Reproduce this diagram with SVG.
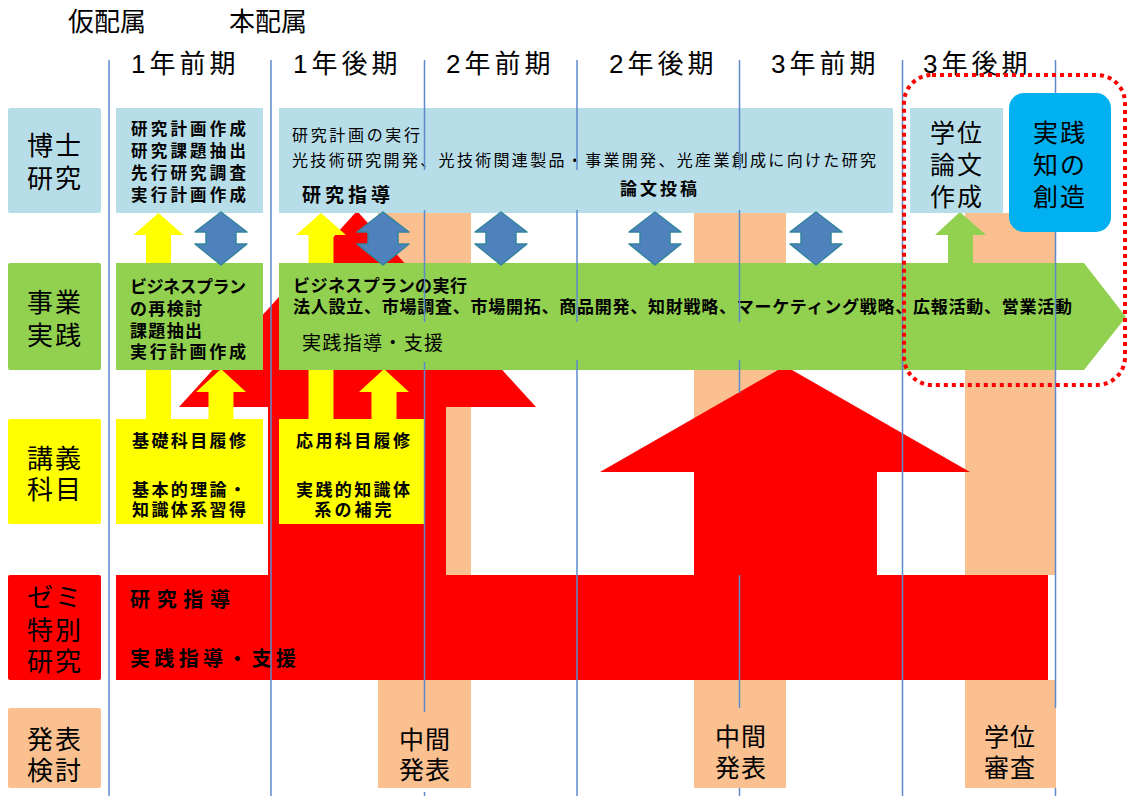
<svg xmlns="http://www.w3.org/2000/svg" width="1127" height="796" viewBox="0 0 1127 796">
<style>
text{font-family:"Liberation Sans","Noto Sans CJK JP","Noto Sans CJK SC",sans-serif;fill:#000}
.hd{font-size:26px}
.per{font-size:26px;letter-spacing:4px}
.lab{font-size:26px;letter-spacing:2px;text-anchor:middle}
.big{font-size:25px;letter-spacing:2px;text-anchor:middle}
.b16{font-size:16.5px;font-weight:bold}
.b17{font-size:17px;font-weight:bold}
.y17{font-size:17px;font-weight:bold;text-anchor:middle}
.r16{font-size:16px}
.b20{font-size:20px;font-weight:bold}
.r19{font-size:19px}
.blue{fill:#B7DEE8}
.green{fill:#92D050}
.yellow{fill:#FFFF00}
.red{fill:#FF0000}
.salmon{fill:#FAC090}
.grid{stroke:#5E8ACB;stroke-width:1.5;fill:none}
</style>
<defs>
<path id="dbl" d="M0 0L26 20L15 20L15 32L26 32L0 53L-26 32L-15 32L-15 20L-26 20Z" fill="#4F81BD" stroke="#31859C" stroke-width="1.5" stroke-linejoin="round"/>
</defs>
<rect width="1127" height="796" fill="#fff"/>

<g id="presentation-columns">
<rect class="salmon" x="378" y="213" width="93" height="362"/>
<rect class="salmon" x="694" y="213" width="92" height="362"/>
<rect class="salmon" x="965" y="213" width="90" height="362"/>
</g>

<g id="connectors">
<path class="red" d="M357 211L536 407L446 407L446 576L268 576L268 407L179 407Z"/>
<path class="red" d="M785 366L970 472L877 472L877 576L694 576L694 472L600 472Z"/>
<path class="yellow" d="M158.5 213L183.5 235L171 235L171 420L146 420L146 235L133.5 235Z"/>
<path class="yellow" d="M221 369L246 392L233.5 392L233.5 420L208.5 420L208.5 392L196 392Z"/>
<path class="yellow" d="M321 213L346 235L333.5 235L333.5 420L308.5 420L308.5 235L296 235Z"/>
<path class="yellow" d="M384 369L409 392L396.5 392L396.5 420L371.5 420L371.5 392L359 392Z"/>
<path class="green" d="M960 212L986 235L973 235L973 264L948 264L948 235L935 235Z"/>
</g>

<g id="label-hakushi"><rect class="blue" x="8" y="108" width="93" height="105" rx="2"/>
<text class="lab" x="55" y="155">博士</text><text class="lab" x="55" y="188">研究</text></g>
<g id="label-jigyo"><rect class="green" x="8" y="263" width="93" height="107" rx="2"/>
<text class="lab" x="55" y="312">事業</text><text class="lab" x="55" y="345">実践</text></g>
<g id="label-kogi"><rect class="yellow" x="8" y="419" width="93" height="105" rx="2"/>
<text class="lab" x="55" y="468">講義</text><text class="lab" x="55" y="499">科目</text></g>
<g id="label-zemi"><rect class="red" x="8" y="575" width="93" height="105" rx="2"/>
<text class="lab" x="55" y="607">ゼミ</text><text class="lab" x="55" y="640">特別</text><text class="lab" x="55" y="671">研究</text></g>
<g id="label-happyo"><rect class="salmon" x="8" y="708" width="93" height="80" rx="2"/>
<text class="lab" x="55" y="749">発表</text><text class="lab" x="55" y="780">検討</text></g>

<g id="research-plan">
<rect class="blue" x="116" y="108" width="147" height="105"/>
<text class="b16" x="131" y="135" textLength="115" lengthAdjust="spacing">研究計画作成</text>
<text class="b16" x="131" y="157" textLength="115" lengthAdjust="spacing">研究課題抽出</text>
<text class="b16" x="131" y="179" textLength="115" lengthAdjust="spacing">先行研究調査</text>
<text class="b16" x="131" y="201" textLength="115" lengthAdjust="spacing">実行計画作成</text>
</g>
<g id="research-exec">
<rect class="blue" x="279" y="108" width="614" height="105"/>
<text class="r16" x="292" y="141" textLength="128" lengthAdjust="spacing">研究計画の実行</text>
<text class="r16" x="292" y="166" textLength="584" lengthAdjust="spacing">光技術研究開発、光技術関連製品・事業開発、光産業創成に向けた研究</text>
<text class="b20" x="302" y="202" textLength="88" lengthAdjust="spacing" style="font-size:19px">研究指導</text>
<text class="b17" x="620" y="195" textLength="77" lengthAdjust="spacing">論文投稿</text>
</g>
<g id="thesis">
<rect class="blue" x="910" y="108" width="93" height="105"/>
<text class="big" x="957" y="142">学位</text><text class="big" x="957" y="174">論文</text><text class="big" x="957" y="206">作成</text>
</g>

<g id="business-plan">
<rect class="green" x="116" y="263" width="147" height="107"/>
<text class="b17" x="130" y="293" textLength="116" lengthAdjust="spacing">ビジネスプラン</text>
<text class="b17" x="130" y="315" textLength="72" lengthAdjust="spacing">の再検討</text>
<text class="b17" x="130" y="337" textLength="72" lengthAdjust="spacing">課題抽出</text>
<text class="b17" x="130" y="358" textLength="116" lengthAdjust="spacing">実行計画作成</text>
</g>
<g id="business-exec">
<path class="green" d="M279 263L1084 263L1126 317L1084 370L279 370Z"/>
<text class="b17" x="293" y="292" textLength="174" lengthAdjust="spacing">ビジネスプランの実行</text>
<text class="b17" x="293" y="313" textLength="779" lengthAdjust="spacing">法人設立、市場調査、市場開拓、商品開発、知財戦略、マーケティング戦略、広報活動、営業活動</text>
<text class="r19" x="302" y="350" textLength="141" lengthAdjust="spacing">実践指導・支援</text>
</g>

<g id="basic-courses">
<rect class="yellow" x="116" y="419" width="147" height="105"/>
<text class="y17" x="189" y="447" textLength="114" lengthAdjust="spacing">基礎科目履修</text>
<text class="y17" x="189" y="496" textLength="114" lengthAdjust="spacing">基本的理論・</text>
<text class="y17" x="189" y="516" textLength="114" lengthAdjust="spacing">知識体系習得</text>
</g>
<g id="applied-courses">
<rect class="yellow" x="279" y="419" width="145" height="105"/>
<text class="y17" x="353" y="447" textLength="114" lengthAdjust="spacing">応用科目履修</text>
<text class="y17" x="353" y="496" textLength="114" lengthAdjust="spacing">実践的知識体</text>
<text class="y17" x="353" y="516" textLength="77" lengthAdjust="spacing">系の補完</text>
</g>

<g id="seminar">
<rect class="red" x="116" y="575" width="932" height="105"/>
<text class="b20" x="130" y="607" textLength="100" lengthAdjust="spacing">研究指導</text>
<text class="b20" x="130" y="666" textLength="166" lengthAdjust="spacing">実践指導・支援</text>
</g>

<g id="midterm-1"><rect class="salmon" x="378" y="680" width="93" height="108"/>
<text class="big" x="425" y="749" style="letter-spacing:1px">中間</text><text class="big" x="425" y="779" style="letter-spacing:1px">発表</text></g>
<g id="midterm-2"><rect class="salmon" x="694" y="680" width="92" height="108"/>
<text class="big" x="741" y="746" style="letter-spacing:1px">中間</text><text class="big" x="741" y="777" style="letter-spacing:1px">発表</text></g>
<g id="degree-review"><rect class="salmon" x="965" y="680" width="91" height="108"/>
<text class="big" x="1010" y="746" style="letter-spacing:1px">学位</text><text class="big" x="1010" y="777" style="letter-spacing:1px">審査</text></g>

<g id="grid">
<path class="grid" d="M109 60V796M271 60V796M424.5 60V170M424.5 210V322M424.5 362V712M424.5 792V796M577 60V170M577 210V322M577 360V796M739.5 60V170M739.5 210V322M739.5 360V393M739.5 575V708M739.5 788V796M902.5 60V796M1055.5 60V93M1055.5 232V708M1055.5 788V796"/>
</g>

<g id="connectors-2">
<use href="#dbl" x="221" y="212"/>
<use href="#dbl" x="383" y="212"/>
<use href="#dbl" x="501" y="212"/>
<use href="#dbl" x="655" y="212"/>
<use href="#dbl" x="816" y="212"/>
</g>

<g id="practical-knowledge">
<rect x="1009" y="93" width="102" height="139" rx="15" fill="#00B0F0"/>
<text class="big" x="1060" y="142">実践</text><text class="big" x="1060" y="174">知の</text><text class="big" x="1060" y="206">創造</text>
</g>

<g id="headers">
<text class="hd" x="68" y="31">仮配属</text>
<text class="hd" x="229" y="31">本配属</text>
<text class="per" x="131" y="73">1年前期</text>
<text class="per" x="293" y="73">1年後期</text>
<text class="per" x="446" y="73">2年前期</text>
<text class="per" x="609" y="73">2年後期</text>
<text class="per" x="771" y="73">3年前期</text>
<text class="per" x="923" y="73">3年後期</text>
</g>

<g id="highlight">
<rect x="904" y="75" width="221" height="310" rx="28" fill="none" stroke="#FF0000" stroke-width="4" stroke-dasharray="4 4"/>
</g>
</svg>
